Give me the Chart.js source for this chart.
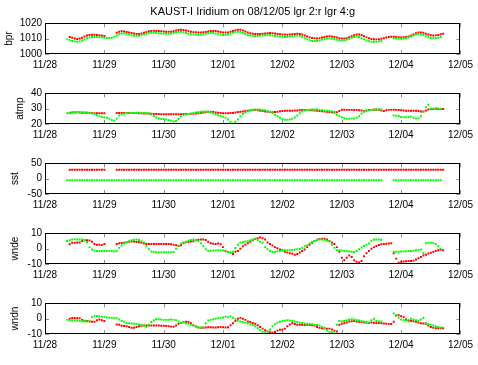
<!DOCTYPE html>
<html>
<head>
<meta charset="utf-8">
<script src="https://cdn.jsdelivr.net/npm/chart.js@4.4.0/dist/chart.umd.min.js"></script>
<style>
  body { margin: 0; background: #fff; }
  #fig { position: relative; width: 478px; height: 365px; }
  #fig canvas { position: absolute; left: 0; }
</style>
</head>
<body>
<div id="fig">
  <canvas id="p0" width="478" height="80" style="top:0px"></canvas>
  <canvas id="p1" width="478" height="80" style="top:70px"></canvas>
  <canvas id="p2" width="478" height="80" style="top:140px"></canvas>
  <canvas id="p3" width="478" height="80" style="top:210px"></canvas>
  <canvas id="p4" width="478" height="80" style="top:280px"></canvas>
</div>
<script>
const figTitle = 'KAUST-I Iridium on 08/12/05 lgr 2:r lgr 4:g';
const tickLabels = ['11/28', '11/29', '11/30', '12/01', '12/02', '12/03', '12/04', '12/05'];
// hourly samples, the first one is 11/28 09:00
const firstHour = 9;

const bprRed = [
  null, 1011, 1010.5, 1010, 1009.8, 1010, 1010.5, 1011.3, 1012, 1012.3,
  1012.5, 1012.5, 1012.3, 1012.2, 1012, 1011.7, null, null, null, null,
  1013.8, 1014.5, 1014.8, 1014.6, 1014.3, 1014, 1013.6, 1013.3, 1013, 1013,
  1013.3, 1013.8, 1014.3, 1014.7, 1015, 1015.1, 1015, 1014.9, 1014.8, 1014.6,
  1014.5, 1014.4, 1014.5, 1014.8, 1015.2, 1015.6, 1015.8, 1015.6, 1015.2, 1014.8,
  1014.4, 1014.2, 1014.1, 1014, 1014, 1014.1, 1014.3, 1014.6, 1014.9, 1015,
  1014.9, 1014.6, 1014.3, 1014, 1013.9, 1014, 1014.4, 1014.9, 1015.4, 1015.8,
  1015.7, 1015.3, 1014.6, 1014, 1013.5, 1013.2, 1013, 1013, 1013, 1013.1,
  1013.3, 1013.5, 1013.6, 1013.5, 1013.3, 1013, 1012.8, 1012.7, 1012.6, 1012.5,
  1012.6, 1012.8, 1013, 1013.1, 1013, 1012.6, 1012, 1011.4, 1010.8, 1010.4,
  1010.2, 1010.1, 1010.3, 1010.7, 1011.1, 1011.4, 1011.5, 1011.4, 1011.1, 1010.7,
  1010.3, 1010, 1010, 1010.3, 1010.9, 1011.6, 1012.2, 1012.6, 1012.6, 1012.2,
  1011.5, 1010.8, 1010.2, 1009.8, 1009.6, 1009.5, 1009.6, 1009.9, 1010.3, 1010.7,
  1011, 1011.2, 1011.2, 1011, 1010.9, 1010.8, 1010.9, 1011.1, 1011.4, 1012,
  1012.7, 1013.4, 1013.9, 1014, 1013.8, 1013.2, 1012.6, 1012.2, 1012, 1012.1,
  1012.4, 1012.8, 1013.1
];
const bprGreen = [
  1009.5, 1009, 1008.5, 1008.2, 1008, 1008.2, 1008.7, 1009.4, 1010.2, 1010.7,
  1011, 1011.1, 1011, 1010.9, 1010.8, 1010.6, 1010.4, 1010.4, 1010.6, 1011.2,
  1012, 1012.8, 1013.3, 1013.3, 1013, 1012.6, 1012.2, 1011.9, 1011.8, 1011.9,
  1012.2, 1012.7, 1013.2, 1013.6, 1013.8, 1013.8, 1013.7, 1013.5, 1013.3, 1013.2,
  1013.1, 1013.1, 1013.3, 1013.6, 1014, 1014.3, 1014.4, 1014.1, 1013.6, 1013.1,
  1012.8, 1012.6, 1012.5, 1012.5, 1012.6, 1012.8, 1013.1, 1013.4, 1013.6, 1013.6,
  1013.3, 1012.9, 1012.6, 1012.4, 1012.4, 1012.7, 1013.2, 1013.8, 1014.3, 1014.5,
  1014.3, 1013.7, 1013, 1012.4, 1012, 1011.8, 1011.7, 1011.7, 1011.8, 1012,
  1012.2, 1012.3, 1012.2, 1012, 1011.7, 1011.5, 1011.3, 1011.2, 1011.1, 1011.1,
  1011.3, 1011.6, 1011.9, 1012, 1011.7, 1011.1, 1010.3, 1009.5, 1008.9, 1008.5,
  1008.4, 1008.5, 1008.8, 1009.3, 1009.7, 1010, 1010.1, 1009.9, 1009.6, 1009.2,
  1008.9, 1008.8, 1008.9, 1009.3, 1009.9, 1010.6, 1011.1, 1011.3, 1011, 1010.3,
  1009.5, 1008.8, 1008.3, 1008, 1007.9, 1008, 1008.2, 1008.6, null, null,
  null, null, 1010.2, 1010, 1009.9, 1009.9, 1010, 1010.3, 1010.7, 1011.3,
  1012, 1012.6, 1012.9, 1012.8, 1012.3, 1011.6, 1010.9, 1010.4, 1010.2, 1010.3,
  1010.6, 1011, null
];

const atmpRed = [
  null, 27.2, 27.5, 27.5, 27.6, 27.5, 27.4, 27.3, 27.3, 27.2,
  27.2, 27, 27, 27, 27, 27, null, null, null, null,
  27.1, 27.1, 27.2, 27.1, 27.1, 27.2, 27.2, 27.1, 27.1, 27,
  27, 26.9, 26.8, 26.8, 26.7, 26.6, 26.5, 26.5, 26.4, 26.4,
  26.3, 26.3, 26.3, 26.4, 26.4, 26.3, 26.4, 26.5, 26.5, 26.6,
  26.6, 26.7, 26.8, 27, 27.2, 27.5, 27.7, 28, 28, 27.8,
  27.5, 27.3, 27.1, 27, 27, 27, 27.1, 27.2, 27.5, 27.8,
  28, 28.2, 28.5, 28.7, 29, 29.2, 29.1, 29, 28.7, 28.5,
  28.2, 28, 27.8, 27.6, 27.8, 28, 28.3, 28.5, 28.6, 28.7,
  28.7, 28.7, 28.8, 28.8, 29, 29.1, 29.2, 29.2, 29, 29,
  28.8, 28.6, 28.4, 28.3, 28.1, 28, 27.8, 27.7, 27.6, 27.6,
  28.5, 29.3, 29.3, 29.2, 29.2, 29.2, 29.1, 29.2, 29, 28.8,
  28.5, 28.8, 29.1, 29.2, 29.3, 29.3, 29.2, 28.8, 28.5, 29,
  29.2, 29.2, 29.3, 29.2, 29.1, 29, 28.8, 28.7, 28.7, 28.7,
  28.6, 28.6, 28.5, 28.2, 28.2, 28.8, 29.5, 29.8, 29.8, 29.9,
  29.8, 29.8, 29.8
];
const atmpGreen = [
  27, 27.3, 27.6, 27.8, 27.8, 27.7, 27.6, 27.5, 27.4, 27.3,
  27, 26.5, 25.7, 25, 24.6, 24.3, 24, 23.4, 22.6, 22.2,
  23.5, 25.5, 26.3, 26.7, 27, 27, 27.1, 27.2, 27.3, 27.4,
  27.3, 27.2, 27.1, 26.8, 26.2, 25.2, 24.3, 23.6, 23.3, 23.2,
  23, 22.6, 22.2, 21.6, 22, 23.3, 24.8, 25.7, 26.2, 26.6,
  26.9, 27.2, 27.5, 27.8, 28, 28.2, 28.2, 28, 27.5, 27,
  26.3, 25.7, 25.2, 24.7, 24, 23, 21.5, 20.5, 21.5, 23,
  25, 26.5, 27.5, 28.2, 28.8, 29.3, 29.5, 29.5, 29.4, 29.2,
  29, 28.5, 28, 27, 26, 25, 24, 23.2, 22.8, 22.7,
  23, 23.4, 24.2, 25.5, 27, 28.2, 28.8, 29.1, 29.3, 29.5,
  29.5, 29.4, 29.2, 29, 28.8, 28.6, 28.5, 28.2, 27.3, 26,
  25, 24.4, 23.8, 23.5, 23.4, 23.5, 23.6, 24, 25, 26.8,
  28, 28.5, 28.8, 29.2, 29.5, 29.6, 29.6, 29.5, null, null,
  null, null, 25.5, 25.4, 25.2, 24.6, 24.4, 24.4, 24.5, 24.8,
  24, 23.5, 23.8, 25, 28, 31, 32.5, 30, 30, 30.2,
  30.1, 30, null
];

const sstRed = [
  null, 29, 29, 29, 29, 29, 29, 29, 29, 29,
  29, 29, 29, 29, 29, 29, null, null, null, null,
  29, 29, 29, 29, 29, 29, 29, 29, 29, 29,
  29, 29, 29, 29, 29, 29, 29, 29, 29, 29,
  29, 29, 29, 29, 29, 29, 29, 29, 29, 29,
  29, 29, 29, 29, 29, 29, 29, 29, 29, 29,
  29, 29, 29, 29, 29, 29, 29, 29, 29, 29,
  29, 29, 29, 29, 29, 29, 29, 29, 29, 29,
  29, 29, 29, 29, 29, 29, 29, 29, 29, 29,
  29, 29, 29, 29, 29, 29, 29, 29, 29, 29,
  29, 29, 29, 29, 29, 29, 29, 29, 29, 29,
  29, 29, 29, 29, 29, 29, 29, 29, 29, 29,
  29, 29, 29, 29, 29, 29, 29, 29, 29, 29,
  29, 29, 29, 29, 29, 29, 29, 29, 29, 29,
  29, 29, 29, 29, 29, 29, 29, 29, 29, 29,
  29, 29, 29
];
const sstGreen = [
  -5, -5, -5, -5, -5, -5, -5, -5, -5, -5,
  -5, -5, -5, -5, -5, -5, -5, -5, -5, -5,
  -5, -5, -5, -5, -5, -5, -5, -5, -5, -5,
  -5, -5, -5, -5, -5, -5, -5, -5, -5, -5,
  -5, -5, -5, -5, -5, -5, -5, -5, -5, -5,
  -5, -5, -5, -5, -5, -5, -5, -5, -5, -5,
  -5, -5, -5, -5, -5, -5, -5, -5, -5, -5,
  -5, -5, -5, -5, -5, -5, -5, -5, -5, -5,
  -5, -5, -5, -5, -5, -5, -5, -5, -5, -5,
  -5, -5, -5, -5, -5, -5, -5, -5, -5, -5,
  -5, -5, -5, -5, -5, -5, -5, -5, -5, -5,
  -5, -5, -5, -5, -5, -5, -5, -5, -5, -5,
  -5, -5, -5, -5, -5, -5, -5, -5, null, null,
  null, null, -5, -5, -5, -5, -5, -5, -5, -5,
  -5, -5, -5, -5, -5, -5, -5, -5, -5, -5,
  -5, -5, null
];

const wndeRed = [
  null, 2.8, 3.9, 3.9, 4, 4, 5, 5.4, 5.5, 5.3,
  4.5, 3, 2.5, 2.5, 2.3, 3, null, null, null, null,
  3, 3.5, 3.7, 3.8, 4.2, 4.5, 4.7, 4.6, 4.4, 4.1,
  3.8, 3.3, 3, 3, 3, 3, 3, 3.1, 3, 3,
  3, 3, 2.8, 2.6, 2.2, 1.8, 2.2, 3.5, 4.2, 4.4,
  4.6, 4.8, 5.4, 5.8, 6, 6, 5.6, 4.5, 3.5, 3.2,
  3, 3.3, 2.8, 1, -1.5, -2.2, -2.5, -3.5, -2, -1.5,
  0, 1.5, 2.6, 3.5, 4.5, 5.4, 6.3, 6.8, 7.2, 6.8,
  5.9, 4, 3, 2, 1, 0.3, -0.5, -1, -2, -2.5,
  -3, -3.3, -3.9, -3.5, -2.5, -1.5, -0.5, 1, 2.5, 3.8,
  5, 5.8, 6.3, 6.5, 6.5, 6, 5, 4, 3, 1,
  -2, -6, -7.5, -6, -4.5, -5.5, -7.5, -8.5, -9, -8,
  -5, -3, -1.5, 0, 1, 1.8, 2.4, 2.8, 3, 3.2,
  3.4, 3.5, -3, -6.5, -9.2, -8.5, -8.3, -8.2, -8, -8,
  -7.8, -7, -6.2, -5.5, -4.5, -4, -3.2, -2.6, -2, -1.5,
  -1, -0.8, -1
];
const wndeGreen = [
  5, 5.5, 6, 6.2, 6, 6, 6, 5.4, 4.3, 1,
  -0.5, -1.2, -1.5, -1.6, -1.6, -1.5, -1.5, -1.4, -1.6, -1.8,
  -1.5, 0.5, 2, 3.3, 4, 4.8, 5.4, 5.8, 5.9, 5.6,
  4.8, 4, 1.5, -0.4, -1.8, -2.2, -2.4, -2.4, -2.5, -2.4,
  -2.4, -2.3, -2.3, -2.2, 0, 2, 3.3, 4, 4.5, 5.2,
  5.6, 5.9, 5.6, 5, 3.5, 1.5, -0.4, -1.5, -1.4, -1.2,
  -1.2, -1, -1, -1.2, -1.8, -2.2, -2.6, -2, 0.4, 2.6,
  3.8, 4.3, 4.6, 4.8, 5.4, 6, 6.5, 5.4, 4.5, 3.9,
  1, -0.4, -1.5, -2.2, -2.2, -1.7, -1.5, -1.2, -1, -1,
  -1, -0.8, -0.6, -0.4, -0.2, 0.5, 1.5, 2.2, 3.5, 4.3,
  5, 5.6, 6, 6, 5.6, 5.2, 4.8, 2.6, 0.5, -1,
  -1, -1.2, -1.5, -1.6, -1.8, -2, -2.2, -1.5, -0.4, 0.8,
  1.8, 2.5, 3.3, 5.2, 5.9, 5.9, 5.9, 5.8, null, null,
  null, null, -2, -2, -2, -1.9, -1.8, -1.7, -1.6, -1.5,
  -1.3, -1, -0.8, -0.6, -2.8, 3.5, 3.8, 3.8, 3.6, 3,
  1.5, 0, null
];

const wndnRed = [
  null, 0, 0.4, 0.4, 0.3, 0.2, -0.8, -1.3, -1.6, -1.8,
  -2, -2, -1, -0.5, -1, -1.5, null, null, null, null,
  -3.8, -4, -4.6, -4.8, -5, -5.5, -6, -6, -5.5, -5,
  -4.6, -4.5, -4.5, -4.4, -4.5, -4.5, -4.4, -4.5, -4.6, -4.7,
  -4.8, -5, -5.2, -5.3, -4.5, -3.3, -2.8, -2.3, -2, -2.2,
  -3, -4.3, -5.2, -5.8, -6, -6, -5.8, -5.6, -5.6, -5.7,
  -5.7, -5.6, -5.5, -5.6, -5.8, -5.6, -4.3, -3, -1.5, 0,
  0.5, 0, -0.8, -1.8, -2.2, -2.8, -3.3, -4.3, -5.5, -6.5,
  -7.5, -8.3, -8.8, -9.1, -8.7, -7.8, -7.3, -7, -6.5, -5,
  -3.8, -3, -3.5, -4, -4, -4.1, -4.2, -4, -4.2, -4.3,
  -4.5, -5.5, -6, -6.2, -6.3, -6.5, -6.5, -7, -7.8, -8.3,
  -4, -3.3, -3, -2.5, -1.8, -1.7, -1.6, -1.8, -2, -2.2,
  -2.5, -2.6, -2.8, -2.5, -2.7, -2.8, -2.9, -3, -3.2, -3.3,
  -3.4, -3.5, -2, 2, 2.2, 1.5, 1, -0.5, -1.2, -1.5,
  -1.7, -2, -2.5, -3, -3.2, -3.3, -4.5, -5.5, -6, -6.2,
  -6.3, -6.3, -6.2
];
const wndnGreen = [
  -0.8, -1, -1, -1, -1.2, -1.5, -1.5, -1.8, -1.8, -1.3,
  1, 1.6, 1.7, 1.5, 1.3, 1.2, 0.8, 0.6, 0.5, 0.5,
  0.3, -0.5, -1.5, -2, -2.8, -3, -3.2, -3.3, -3.5, -3.8,
  -4.2, -4.6, -5.5, -4, -2.2, -1, -0.3, -0.4, -0.6, -0.8,
  -0.8, -0.7, -0.6, -0.8, -1, -1.8, -2.6, -2.5, -3, -3.4,
  -3.8, -4.4, -5, -5.6, -5.9, -5.5, -3, -1.2, -0.8, -0.4,
  0, 0.3, 0.6, 0.8, 1.2, 1, 1.5, 0.6, -0.4, -1.2,
  -1.8, -2.2, -2.6, -3, -3.6, -4.2, -5, -6.3, -7.6, -8.5,
  -8.8, -8.3, -7, -5, -3.6, -2.6, -2, -1.6, -1.3, -1.1,
  -1.2, -1.5, -1.8, -2.2, -2.6, -2.9, -3.2, -3.4, -3.5, -3.6,
  -3.9, -4.2, -4.5, -5.5, -6.8, -7.8, -8.5, -8.8, -8.6, -4,
  -1.6, -1.7, -1.5, -1, -0.6, -0.4, -0.5, -0.9, -1.2, -1.6,
  -2, -2.2, -2.5, -1, 0, -1.5, -1.8, -1.8, null, null,
  null, null, 3.3, 2.2, 0.5, -0.5, -1, -1.2, -1.8, 0,
  -0.5, -1, -1.2, -0.5, 0.4, -2.8, -3.5, -4, -4.5, -5,
  -5.4, -5.8, null
];

const panels = [
  { name: 'bpr', red: bprRed, green: bprGreen, min: 1000, max: 1020, step: 10, labelPad: 3.5 },
  { name: 'atmp', red: atmpRed, green: atmpGreen, min: 20, max: 40, step: 10, labelPad: 14 },
  { name: 'sst', red: sstRed, green: sstGreen, min: -50, max: 50, step: 50, labelPad: 9 },
  { name: 'wnde', red: wndeRed, green: wndeGreen, min: -10, max: 10, step: 10, labelPad: 9 },
  { name: 'wndn', red: wndnRed, green: wndnGreen, min: -10, max: 10, step: 10, labelPad: 9 }
];

Chart.defaults.font.family = '"Liberation Sans", Arial, sans-serif';
Chart.defaults.font.size = 10;
Chart.defaults.color = '#000';

function toPoints(values) {
  return values.map((v, i) => ({ x: (firstHour + i) / 24, y: v }));
}

// matlab-like frame: black box, short grey ticks pointing inwards
const boxPlugin = {
  id: 'box',
  beforeDatasetsDraw(chart) {
    const { ctx, chartArea: a, scales: { x, y } } = chart;
    ctx.save();
    ctx.strokeStyle = '#8c8c8c';
    ctx.lineWidth = 1;
    ctx.beginPath();
    x.ticks.forEach(t => {
      const px = Math.round(x.getPixelForValue(t.value)) + 0.5;
      ctx.moveTo(px, a.top);
      ctx.lineTo(px, a.top + 4);
      ctx.moveTo(px, a.bottom);
      ctx.lineTo(px, a.bottom - 4);
    });
    y.ticks.forEach(t => {
      const py = Math.round(y.getPixelForValue(t.value)) + 0.5;
      ctx.moveTo(a.left, py);
      ctx.lineTo(a.left + 4, py);
      ctx.moveTo(a.right, py);
      ctx.lineTo(a.right - 4, py);
    });
    ctx.stroke();
    ctx.restore();
  },
  afterDraw(chart) {
    const { ctx, chartArea: a } = chart;
    ctx.save();
    ctx.strokeStyle = '#000';
    ctx.lineWidth = 1;
    ctx.strokeRect(Math.round(a.left) + 0.5, Math.round(a.top) + 0.5,
      Math.round(a.width) - 1, Math.round(a.height) - 1);
    ctx.restore();
  }
};

panels.forEach((p, k) => {
  new Chart(document.getElementById('p' + k), {
    type: 'scatter',
    data: {
      datasets: [
        { data: toPoints(p.red), backgroundColor: '#ff0000', order: 1 },
        { data: toPoints(p.green), backgroundColor: '#00ff00', order: 0 }
      ]
    },
    options: {
      responsive: false,
      animation: false,
      events: [],
      layout: { padding: { top: k === 0 ? 0 : 23.3, right: 16.5, left: 0, bottom: 0 } },
      elements: { point: { pointStyle: 'rect', radius: 1.4, borderWidth: 0 } },
      plugins: {
        legend: { display: false },
        tooltip: { enabled: false },
        title: {
          display: k === 0,
          text: figTitle,
          fullSize: false,
          font: { size: 11, weight: 'normal' },
          color: '#000',
          padding: { top: 5, bottom: 5 }
        }
      },
      scales: {
        x: {
          type: 'linear',
          min: 0,
          max: 7,
          grid: { display: false, drawTicks: false },
          border: { display: false },
          afterFit: s => { s.height = 80 - 54; },
          ticks: {
            stepSize: 1,
            autoSkip: false,
            maxRotation: 0,
            padding: 5,
            callback: v => tickLabels[v]
          }
        },
        y: {
          min: p.min,
          max: p.max,
          grid: { display: false, drawTicks: false },
          border: { display: false },
          afterFit: s => { s.width = 45; },
          ticks: {
            stepSize: p.step,
            autoSkip: false,
            padding: 3,
            callback: v => String(v)
          },
          title: {
            display: true,
            text: p.name,
            font: { size: 10 },
            padding: { top: p.labelPad, bottom: 0 }
          }
        }
      }
    },
    plugins: [boxPlugin]
  });
});
</script>
</body>
</html>
